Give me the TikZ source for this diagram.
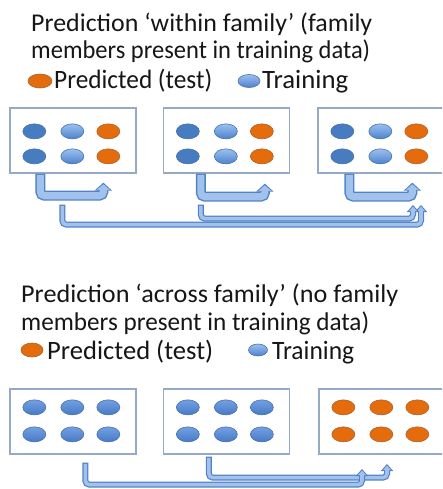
\documentclass[tikz,border=0pt]{standalone}
\usepackage{fontspec}
\usepackage{graphicx}
\setmainfont{Carlito}
\usetikzlibrary{arrows.meta,calc,shapes.geometric}
\definecolor{boxline}{RGB}{150,170,200}
\definecolor{darkb}{RGB}{72,124,192}
\definecolor{darkbline}{RGB}{68,112,172}
\definecolor{lightbtop}{RGB}{155,192,240}
\definecolor{lightbbot}{RGB}{78,130,205}
\definecolor{midbtop}{RGB}{115,160,225}
\definecolor{midbbot}{RGB}{70,122,198}
\definecolor{orng}{RGB}{228,108,12}
\definecolor{orngline}{RGB}{172,96,44}
\definecolor{arrline}{RGB}{82,130,196}
\definecolor{arrfill}{RGB}{162,194,238}
\definecolor{txt}{RGB}{22,22,22}
\newcommand{\blockarrow}[7]{%
  \draw[draw=arrline, line width=#1pt, rounded corners=4pt, -{Triangle[width=#2pt,length=#3pt]}] #7;
  \draw[draw=arrfill, line width=#4pt, rounded corners=4pt, shorten <=1.2pt, shorten >=1.6pt, -{Triangle[width=#5pt,length=#6pt]}] #7;
}
\newcommand{\fitw}[2]{\resizebox{#1pt}{\height}{#2}}
\begin{document}
\begin{tikzpicture}[x=1pt,y=-1pt,
  box/.style={draw=boxline, line width=1.3pt, fill=white, minimum width=126pt, minimum height=65pt, inner sep=0pt},
  dot/.style={ellipse, minimum width=23pt, minimum height=15pt, inner sep=0pt, line width=0.6pt},
  dkdot/.style={dot, draw=darkbline, fill=darkb},
  ltdot/.style={dot, draw=darkbline, top color=lightbtop, bottom color=lightbbot},
  mddot/.style={dot, draw=darkbline, top color=midbtop, bottom color=midbbot},
  ordot/.style={dot, draw=orngline, fill=orng},
  lbl/.style={anchor=base west, inner sep=0pt, text=txt, font=\fontsize{25.6}{28}\selectfont},
  leg/.style={lbl, font=\fontsize{26.5}{28}\selectfont},
]
\useasboundingbox (0,0) rectangle (442,489);
\clip (0,0) rectangle (442,489);
\fill[white] (0,0) rectangle (442,489);

% ---- top section text
\node[lbl] (h1a) at (31,32) {\fitw{341}{Prediction ‘within family’ (family}};
\node[lbl] (h1b) at (31,59) {\fitw{339}{members present in training data)}};
\node[ordot, minimum width=24pt, minimum height=14pt] (k1o) at (40,81) {};
\node[leg] (k1p) at (54,89) {\fitw{158}{Predicted (test)}};
\node[ltdot, minimum width=22pt, minimum height=13pt] (k1b) at (249,81) {};
\node[leg] (k1t) at (262,89) {\fitw{86}{Training}};

% ---- bottom section text
\node[lbl] (h2a) at (21,302) {\fitw{377}{Prediction ‘across family’ (no family}};
\node[lbl] (h2b) at (21,330) {\fitw{348}{members present in training data)}};
\node[ordot, minimum width=22pt, minimum height=14pt] (k2o) at (32,350) {};
\node[leg] (k2p) at (47,359) {\fitw{166}{Predicted (test)}};
\node[ltdot, minimum width=19pt, minimum height=12pt] (k2b) at (258,350) {};
\node[leg] (k2t) at (272,359) {\fitw{82}{Training}};

% ---- boxes
\node[box] (t1) at (73,140.5) {};
\node[box] (t2) at (226.5,140.5) {};
\node[box] (t3) at (381,140.5) {};
\node[box] (b1) at (73,421.5) {};
\node[box] (b2) at (226.5,421.5) {};
\node[box] (b3) at (382,421.5) {};

% ---- ellipses
\foreach \bx/\sa/\sb/\sc/\ra/\rb in {t1/dkdot/ltdot/ordot/24/49, t2/dkdot/ltdot/ordot/24/49, t3/dkdot/ltdot/ordot/24/49,
  b1/mddot/mddot/mddot/19/46, b2/mddot/mddot/mddot/19/46, b3/ordot/ordot/ordot/19/46}{
  \node[\sa] (\bx-a1) at ($(\bx.north west)+(25,\ra)$) {};
  \node[\sb] (\bx-b1) at ($(\bx.north west)+(63,\ra)$) {};
  \node[\sc] (\bx-c1) at ($(\bx.north west)+(99,\ra)$) {};
  \node[\sa] (\bx-a2) at ($(\bx.north west)+(25,\rb)$) {};
  \node[\sb] (\bx-b2) at ($(\bx.north west)+(63,\rb)$) {};
  \node[\sc] (\bx-c2) at ($(\bx.north west)+(99,\rb)$) {};
}

% ---- top arrows
\coordinate (tl1) at (421,205);
\coordinate (tl2) at (413,205);
\blockarrow{6}{12}{7}{3.6}{8}{4.6}{($(t1.south west)+(53,31)$) -- ($(t1.south west)+(53,51)$) -| (tl1)}
\blockarrow{6}{12}{7}{3.6}{8}{4.6}{($(t2.south west)+(38,31)$) -- ($(t2.south west)+(38,45)$) -| (tl2)}
\blockarrow{10}{17}{8}{7.2}{12.5}{5.6}{($(t1.south west)+(31,0)$) -- ++(0,22) -- ++(63,0) -- ++(0,-13)}
\blockarrow{10}{17}{8}{7.2}{12.5}{5.6}{($(t2.south west)+(38,0)$) -- ++(0,23) -- ++(64,0) -- ++(0,-13)}
\blockarrow{10}{17}{8}{7.2}{12.5}{5.6}{($(t3.south west)+(32,0)$) -- ++(0,23) -- ++(63,0) -- ++(0,-14)}

% ---- bottom arrows
\coordinate (bl1) at (362,469);
\coordinate (bl2) at (387,464);
\blockarrow{6}{12}{7}{3.6}{8}{4.6}{($(b2.south west)+(46,2)$) -- ($(b2.south west)+(46,23)$) -| (bl2)}
\blockarrow{6}{12}{7}{3.6}{8}{4.6}{($(b1.south west)+(76,8)$) -- ($(b1.south west)+(76,30)$) -| (bl1)}
\end{tikzpicture}
\end{document}
